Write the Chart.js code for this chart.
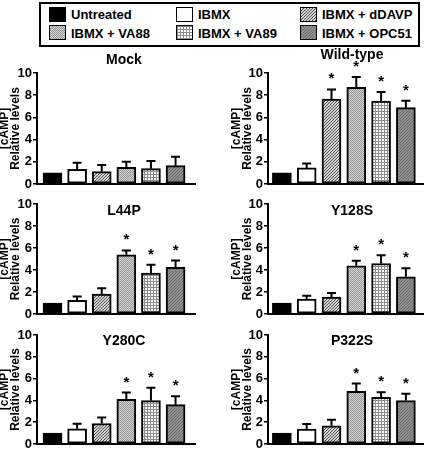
<!DOCTYPE html>
<html>
<head>
<meta charset="utf-8">
<script src="https://cdn.jsdelivr.net/npm/chart.js@4"></script>
<style>
  body { margin: 0; width: 425px; height: 453px; overflow: hidden; background: #fff;
         font-family: 'Liberation Sans', Arial, sans-serif; font-weight: bold; }
  canvas { position: absolute; }
  .ttl { position: absolute; font-size: 14px; transform: translate(-50%, -50%); white-space: nowrap; }
  #legend { position: absolute; left: 39px; top: 2px; width: 377px; height: 41px; border: 2px solid #000; }
  .sw { position: absolute; width: 15px; height: 13px; border: 1px solid #000; }
  .lt { position: absolute; font-size: 13px; line-height: 15px; white-space: nowrap; }
</style>
</head>
<body>
<div id="legend"></div>
<canvas id="c0"></canvas><canvas id="c1"></canvas>
<canvas id="c2"></canvas><canvas id="c3"></canvas>
<canvas id="c4"></canvas><canvas id="c5"></canvas>
<script>
// treatments, one bar each, same order in every panel
const treatments = ['Untreated', 'IBMX', 'IBMX + dDAVP', 'IBMX + VA88', 'IBMX + VA89', 'IBMX + OPC51'];
const yTicks = [0, 2, 4, 6, 8, 10];

// relative [cAMP] levels, mean and upper error
const mockMean = [1.0, 1.32, 1.11, 1.50, 1.38, 1.65];
const mockErr = [0, 0.60, 0.60, 0.50, 0.69, 0.81];
const wtMean = [1.0, 1.45, 7.64, 8.70, 7.46, 6.88];
const wtErr = [0, 0.40, 0.88, 0.95, 0.82, 0.62];
const l44pMean = [1.0, 1.25, 1.80, 5.38, 3.73, 4.25];
const l44pErr = [0, 0.34, 0.55, 0.40, 0.74, 0.61];
const y128sMean = [1.0, 1.35, 1.53, 4.38, 4.59, 3.39];
const y128sErr = [0, 0.30, 0.37, 0.46, 0.76, 0.77];
const y280cMean = [1.0, 1.39, 1.88, 4.10, 3.98, 3.61];
const y280cErr = [0, 0.46, 0.56, 0.62, 1.17, 0.77];
const p322sMean = [1.0, 1.36, 1.67, 4.84, 4.29, 3.98];
const p322sErr = [0, 0.47, 0.55, 0.71, 0.46, 0.62];
// significant (*) bars, by index
const wtStars = [2, 3, 4, 5];
const mutStars = [3, 4, 5];

// fill patterns
function tile(w, h, bg, fg, pts) {
  const c = document.createElement('canvas');
  c.width = w; c.height = h;
  const x = c.getContext('2d');
  x.fillStyle = bg; x.fillRect(0, 0, w, h);
  x.fillStyle = fg;
  pts.forEach(p => x.fillRect(p[0], p[1], 1, 1));
  return c;
}
const tiles = [
  tile(2, 2, '#000', '#000', []),
  tile(2, 2, '#fff', '#fff', []),
  tile(3, 3, '#d4d4d4', '#505050', [[0, 2], [1, 1], [2, 0]]),
  tile(2, 2, '#d2d2d2', '#989898', [[0, 0], [1, 1]]),
  tile(3, 3, '#fff', '#8c8c8c', [[0, 0], [1, 0], [2, 0], [0, 1], [0, 2]]),
  tile(3, 3, '#909090', '#6c6c6c', [[0, 2], [1, 1], [2, 0]])
];
const fills = tiles.map(t => document.createElement('canvas').getContext('2d').createPattern(t, 'repeat'));

// legend
const legend = document.getElementById('legend');
treatments.forEach((t, i) => {
  const row = i < 3 ? 0 : 1;
  const cx = [8, 135, 259][i % 3];
  const sw = document.createElement('div');
  sw.className = 'sw';
  sw.style.left = cx + 'px';
  sw.style.top = (row ? 21 : 3) + 'px';
  sw.style.background = 'url(' + tiles[i].toDataURL() + ')';
  legend.appendChild(sw);
  const lt = document.createElement('div');
  lt.className = 'lt';
  lt.textContent = t;
  lt.style.left = (cx + 22) + 'px';
  lt.style.top = (row ? 22 : 3) + 'px';
  legend.appendChild(lt);
});

const errorBars = {
  id: 'errorBars',
  afterDatasetsDraw(chart, args, opts) {
    const ctx = chart.ctx, ys = chart.scales.y;
    const meta = chart.getDatasetMeta(0);
    ctx.save();
    ctx.strokeStyle = '#000';
    ctx.lineWidth = 2;
    meta.data.forEach((bar, i) => {
      const e = opts.err[i];
      const top = ys.getPixelForValue(opts.mean[i] + e);
      if (e > 0) {
        ctx.beginPath();
        ctx.moveTo(bar.x, bar.y);
        ctx.lineTo(bar.x, top);
        ctx.moveTo(bar.x - 4.5, top);
        ctx.lineTo(bar.x + 4.5, top);
        ctx.stroke();
      }
      if (opts.stars.includes(i)) {
        ctx.fillStyle = '#000';
        ctx.font = 'bold 15px "Liberation Sans", Arial';
        ctx.textAlign = 'center';
        ctx.textBaseline = 'alphabetic';
        ctx.fillText('*', bar.x, top - 6);
      }
    });
    ctx.restore();
  }
};

const panels = [
  { name: 'Mock', mean: mockMean, err: mockErr, stars: [], side: 0, top: 73, bottom: 184, ty: 59 },
  { name: 'Wild-type', mean: wtMean, err: wtErr, stars: wtStars, side: 1, top: 73, bottom: 184, ty: 54 },
  { name: 'L44P', mean: l44pMean, err: l44pErr, stars: mutStars, side: 0, top: 204, bottom: 314, ty: 210 },
  { name: 'Y128S', mean: y128sMean, err: y128sErr, stars: mutStars, side: 1, top: 204, bottom: 314, ty: 210 },
  { name: 'Y280C', mean: y280cMean, err: y280cErr, stars: mutStars, side: 0, top: 335, bottom: 444, ty: 340 },
  { name: 'P322S', mean: p322sMean, err: p322sErr, stars: mutStars, side: 1, top: 335, bottom: 444, ty: 340 }
];

panels.forEach((p, k) => {
  const axisX = p.side ? 268 : 37;
  const axisW = p.side ? 46 : 37;
  const right = p.side ? 423 : 195;
  const left = axisX - axisW;
  const cv = document.getElementById('c' + k);
  const h = p.bottom - p.top + 23;
  cv.style.left = left + 'px';
  cv.style.top = (p.top - 13) + 'px';
  cv.width = right + 2 - left;
  cv.height = h;
  cv.style.width = cv.width + 'px';
  cv.style.height = h + 'px';

  const t = document.createElement('div');
  t.className = 'ttl';
  t.textContent = p.name;
  t.style.left = (p.side ? 352 : 124) + 'px';
  t.style.top = p.ty + 'px';
  document.body.appendChild(t);

  new Chart(cv, {
    type: 'bar',
    data: {
      datasets: [{
        data: p.mean.map((v, i) => ({ x: i, y: v })),
        backgroundColor: fills,
        borderColor: '#000',
        borderWidth: 2,
        borderSkipped: false,
        barThickness: 19
      }]
    },
    options: {
      responsive: false,
      animation: false,
      layout: { padding: { top: 13, bottom: 10, right: 2, left: 0 } },
      plugins: {
        legend: { display: false },
        tooltip: { enabled: false },
        errorBars: { mean: p.mean, err: p.err, stars: p.stars }
      },
      scales: {
        x: {
          type: 'linear',
          offset: false,
          bounds: 'data',
          min: p.side ? -0.56 : -0.63,
          max: p.side ? 5.69 : 5.79,
          ticks: { display: false },
          grid: { display: false, offset: false },
          border: { display: true, color: '#000', width: 2 },
          afterFit: s => { s.height = 0; }
        },
        y: {
          min: 0,
          max: 10,
          ticks: {
            stepSize: 1,
            color: '#000',
            padding: 1,
            font: { family: '"Liberation Sans", Arial', size: 13, weight: 'bold' },
            callback: v => yTicks.includes(v) ? String(v) : ''
          },
          grid: { drawOnChartArea: false, color: '#000', lineWidth: 1.5, tickLength: 4 },
          border: { color: '#000', width: 2 },
          title: {
            display: true,
            text: ['[cAMP]', 'Relative levels'],
            color: '#000',
            padding: { top: p.side ? 10 : 0, bottom: 0 },
            font: { family: '"Liberation Sans", Arial', size: 12, weight: 'bold', lineHeight: 0.85 }
          },
          afterFit: s => { s.width = axisW; }
        }
      }
    },
    plugins: [errorBars]
  });
});
</script>
</body>
</html>
